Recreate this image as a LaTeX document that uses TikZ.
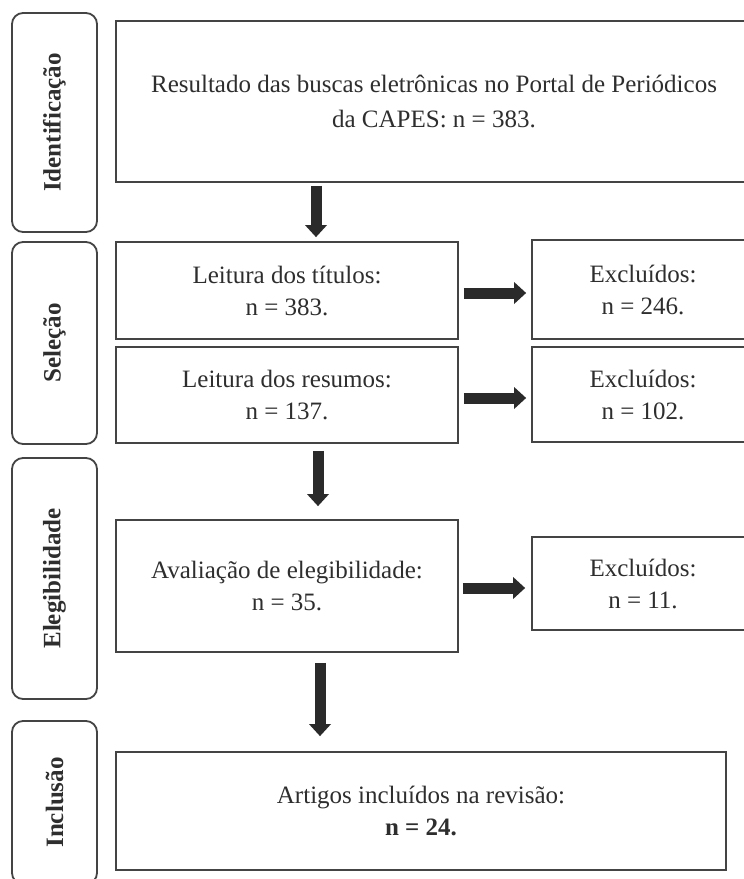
\documentclass[tikz,border=0pt]{standalone}
\usepackage{fontspec}
\setmainfont{Liberation Serif}
\usetikzlibrary{arrows.meta,calc}
\definecolor{linec}{HTML}{444444}
\definecolor{txtc}{HTML}{2E2E2E}
\definecolor{arrc}{HTML}{2A2A2A}
\begin{document}
\begin{tikzpicture}[x=1pt,y=-1pt,
  box/.style={draw=linec, line width=1.8pt, fill=white, align=center, text=txtc,
    font=\fontsize{25}{32}\selectfont, inner sep=0pt},
  side/.style={draw=linec, line width=1.8pt, rounded corners=11pt, rotate=90,
    text=txtc, font=\fontsize{25}{30}\selectfont\bfseries, inner sep=0pt},
  blk/.style={draw=arrc, line width=11pt,
    -{Triangle[width=22pt,length=12pt,line width=0pt]}}]
\useasboundingbox (0,0) rectangle (744,879);
\fill[white] (0,0) rectangle (744,879);

% side phase boxes
\node[side, minimum width=219pt, minimum height=85pt] (sid) at (54.5,122.5) {Identificação};
\node[side, minimum width=202pt, minimum height=85pt] (sse) at (54.5,343) {Seleção};
\node[side, minimum width=241pt, minimum height=85pt] (sel) at (54.5,578.5) {Elegibilidade};
\node[side, minimum width=163pt, minimum height=85pt] (sin) at (54.5,802.5) {Inclusão};

% main boxes
\node[box, minimum width=636pt, minimum height=161pt] (top) at (434,101.5)
  {Resultado das buscas eletrônicas no Portal de Periódicos\\[3pt]da CAPES: n = 383.};
\node[box, minimum width=342pt, minimum height=97pt] (tit) at (287,290.5)
  {Leitura dos títulos:\\n = 383.};
\node[box, minimum width=222pt, minimum height=99pt] (ex1) at (643,289.5)
  {Excluídos:\\n = 246.};
\node[box, minimum width=342pt, minimum height=96pt] (res) at (287,395)
  {Leitura dos resumos:\\n = 137.};
\node[box, minimum width=222pt, minimum height=95pt] (ex2) at (643,394.5)
  {Excluídos:\\n = 102.};
\node[box, minimum width=342pt, minimum height=132pt] (ava) at (287,586)
  {Avaliação de elegibilidade:\\n = 35.};
\node[box, minimum width=222pt, minimum height=93pt] (ex3) at (643,583.5)
  {Excluídos:\\n = 11.};
\node[box, minimum width=610pt, minimum height=118pt] (art) at (421,811)
  {Artigos incluídos na revisão:\\\textbf{n = 24.}};

% arrow guide coordinates
\coordinate (a1) at (316,0);
\coordinate (a2) at (318,0);
\coordinate (a4) at (320,0);
\coordinate (r1) at (0,293);
\coordinate (r2) at (0,398);
\coordinate (r3) at (0,588);

% connectors
\draw[blk, shorten <=3pt, shorten >=4pt] (top.south -| a1) -- (tit.north -| a1);
\draw[blk, shorten <=7pt, shorten >=13pt] (res.south -| a2) -- (ava.north -| a2);
\draw[blk, shorten <=10pt, shorten >=15pt] (ava.south -| a4) -- (art.north -| a4);
\draw[blk, shorten <=5pt, shorten >=5pt] (tit.east |- r1) -- (ex1.west |- r1);
\draw[blk, shorten <=5pt, shorten >=5pt] (res.east |- r2) -- (ex2.west |- r2);
\draw[blk, shorten <=4pt, shorten >=6pt] (ava.east |- r3) -- (ex3.west |- r3);
\end{tikzpicture}
\end{document}
